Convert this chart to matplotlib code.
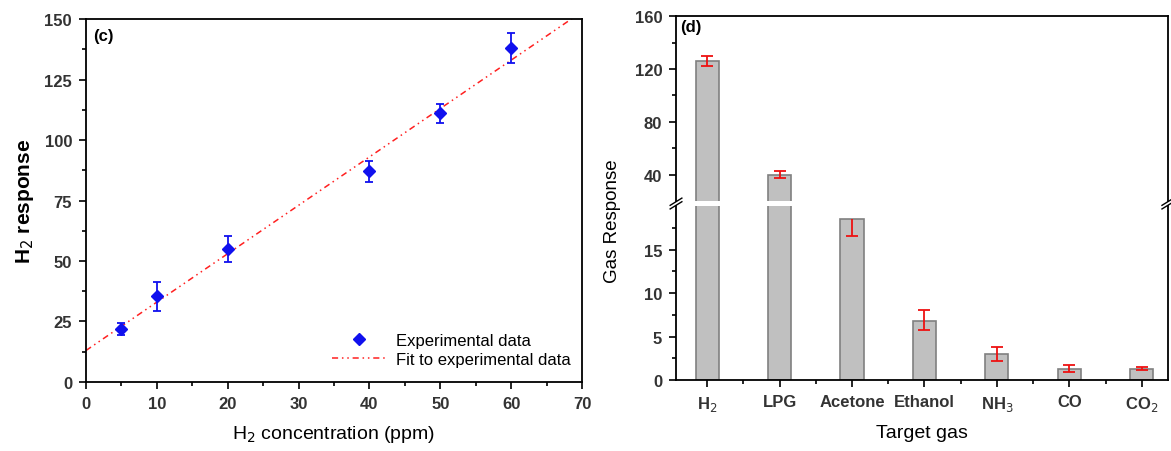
import matplotlib
matplotlib.use("Agg")
import matplotlib.pyplot as plt
from matplotlib.lines import Line2D
import numpy as np

plt.rcParams['font.family'] = ['Liberation Sans', 'DejaVu Sans']

# ---- panel (c) data ----
conc = [5, 10, 20, 40, 50, 60]
resp = [22, 35.5, 55, 87, 111, 138]
resp_err = [2.5, 6, 5.5, 4.2, 4, 6.2]
fit_x = [0, 70]
fit_y = [13, 153]

# ---- panel (d) data ----
gases = ['H$_2$', 'LPG', 'Acetone', 'Ethanol', 'NH$_3$', 'CO', 'CO$_2$']
gas_resp = [126, 40, 18.5, 6.8, 3.0, 1.3, 1.3]
err_low = [3.5, 2.5, 2.0, 1.1, 0.85, 0.4, 0.2]
err_high = [3.5, 2.5, 0.0, 1.2, 0.85, 0.4, 0.15]

fig = plt.figure(figsize=(11.71, 4.52), dpi=100)

# ---------------- Panel (c) ----------------
ax = fig.add_axes([0.0734, 0.1527, 0.4236, 0.803])
ax.errorbar(conc, resp, yerr=resp_err, fmt='D', color='#1010ee', ms=6.5,
            ecolor='#1010ee', elinewidth=1.3, capsize=3, capthick=1.3, zorder=3)
fl, = ax.plot(fit_x, fit_y, color='#ff2020', lw=1.1,
              linestyle=(0, (4, 2.5, 1, 2.5, 1, 2.5)), zorder=2)
ax.set_xlim(0, 70)
ax.set_ylim(0, 150)
ax.set_xticks(range(0, 71, 10))
ax.set_xticks(range(5, 70, 10), minor=True)
ax.set_yticks(range(0, 151, 25))
ax.set_yticks(np.arange(12.5, 150, 25), minor=True)
ax.tick_params(which='both', direction='out', width=1.2, labelsize=12, pad=5)
ax.tick_params(which='major', length=5)
ax.tick_params(which='minor', length=3)
for lab in ax.get_xticklabels() + ax.get_yticklabels():
    lab.set_fontweight('bold')
    lab.set_color('#333333')
for s in ax.spines.values():
    s.set_linewidth(1.3)
ax.set_xlabel('H$_2$ concentration (ppm)', fontsize=14, labelpad=9)
ax.set_ylabel('H$_2$ response', fontsize=15, fontweight='bold', labelpad=6)
ax.text(0.015, 0.975, '(c)', transform=ax.transAxes, fontsize=12,
        fontweight='bold', va='top', ha='left')
marker_handle = Line2D([], [], ls='none', marker='D', ms=6.5, color='#1010ee')
ax.legend([marker_handle, fl], ['Experimental data', 'Fit to experimental data'],
          loc='lower right', frameon=False, fontsize=12,
          bbox_to_anchor=(1.0, 0.01), handlelength=3.2, borderaxespad=0.3,
          labelspacing=0.25, handletextpad=0.6)

# ---------------- Panel (d) ----------------
x = np.arange(len(gases))
axl = fig.add_axes([0.5773, 0.157, 0.420, 0.385])
axu = fig.add_axes([0.5773, 0.553, 0.420, 0.409])

low_vals = np.array(gas_resp) - np.array(err_low)
high_vals = np.array(gas_resp) + np.array(err_high)
has_low = np.array(err_low) > 0
has_high = np.array(err_high) > 0

for a in (axl, axu):
    a.bar(x, gas_resp, width=0.32, color='#c0c0c0', edgecolor='#808080', linewidth=1.2, zorder=2)
    a.errorbar(x, gas_resp, yerr=[err_low, err_high], fmt='none', ecolor='#ee1111',
               elinewidth=1.3, capsize=0, zorder=3)
    a.plot(x[has_low], low_vals[has_low], ls='none', marker='_', ms=9, mew=1.3,
           color='#ee1111', zorder=3)
    a.plot(x[has_high], high_vals[has_high], ls='none', marker='_', ms=9, mew=1.3,
           color='#ee1111', zorder=3)
    a.set_xlim(-0.43, 6.36)
    a.tick_params(which='both', direction='out', width=1.2, labelsize=12, pad=5)
    a.tick_params(which='major', length=5)
    a.tick_params(which='minor', length=3)
    for s in a.spines.values():
        s.set_linewidth(1.3)

axl.set_ylim(0, 20)
axl.set_yticks([0, 5, 10, 15])
axl.set_yticks([2.5, 7.5, 12.5, 17.5], minor=True)
axl.spines['top'].set_visible(False)
axl.set_xticks(x)
axl.set_xticklabels(gases)
axl.set_xticks(x[:-1] + 0.5, minor=True)

axu.set_ylim(20, 160)
axu.set_yticks([40, 80, 120, 160])
axu.set_yticks([60, 100, 140], minor=True)
axu.spines['bottom'].set_visible(False)
axu.tick_params(axis='x', which='both', bottom=False, labelbottom=False)

for lab in axl.get_xticklabels() + axl.get_yticklabels() + axu.get_yticklabels():
    lab.set_fontweight('bold')
    lab.set_color('#333333')

axl.set_xlabel('Target gas', fontsize=14, labelpad=8)
fig.text(0.523, 0.51, 'Gas Response', rotation=90, fontsize=13.5, va='center', ha='center')
axu.text(0.008, 0.985, '(d)', transform=axu.transAxes, fontsize=12,
         fontweight='bold', va='top', ha='left')

# break marks on both spines
dx = 0.005
dy = 0.008
for xa in (0, 1):
    xc = 0.5773 + xa * 0.420
    for off in (-0.004, 0.004):
        fig.lines.append(Line2D([xc - dx, xc + dx],
                                [0.5475 + off - dy, 0.5475 + off + dy],
                                transform=fig.transFigure, color='black', lw=1.0))

fig.savefig('out.png', dpi=100)
